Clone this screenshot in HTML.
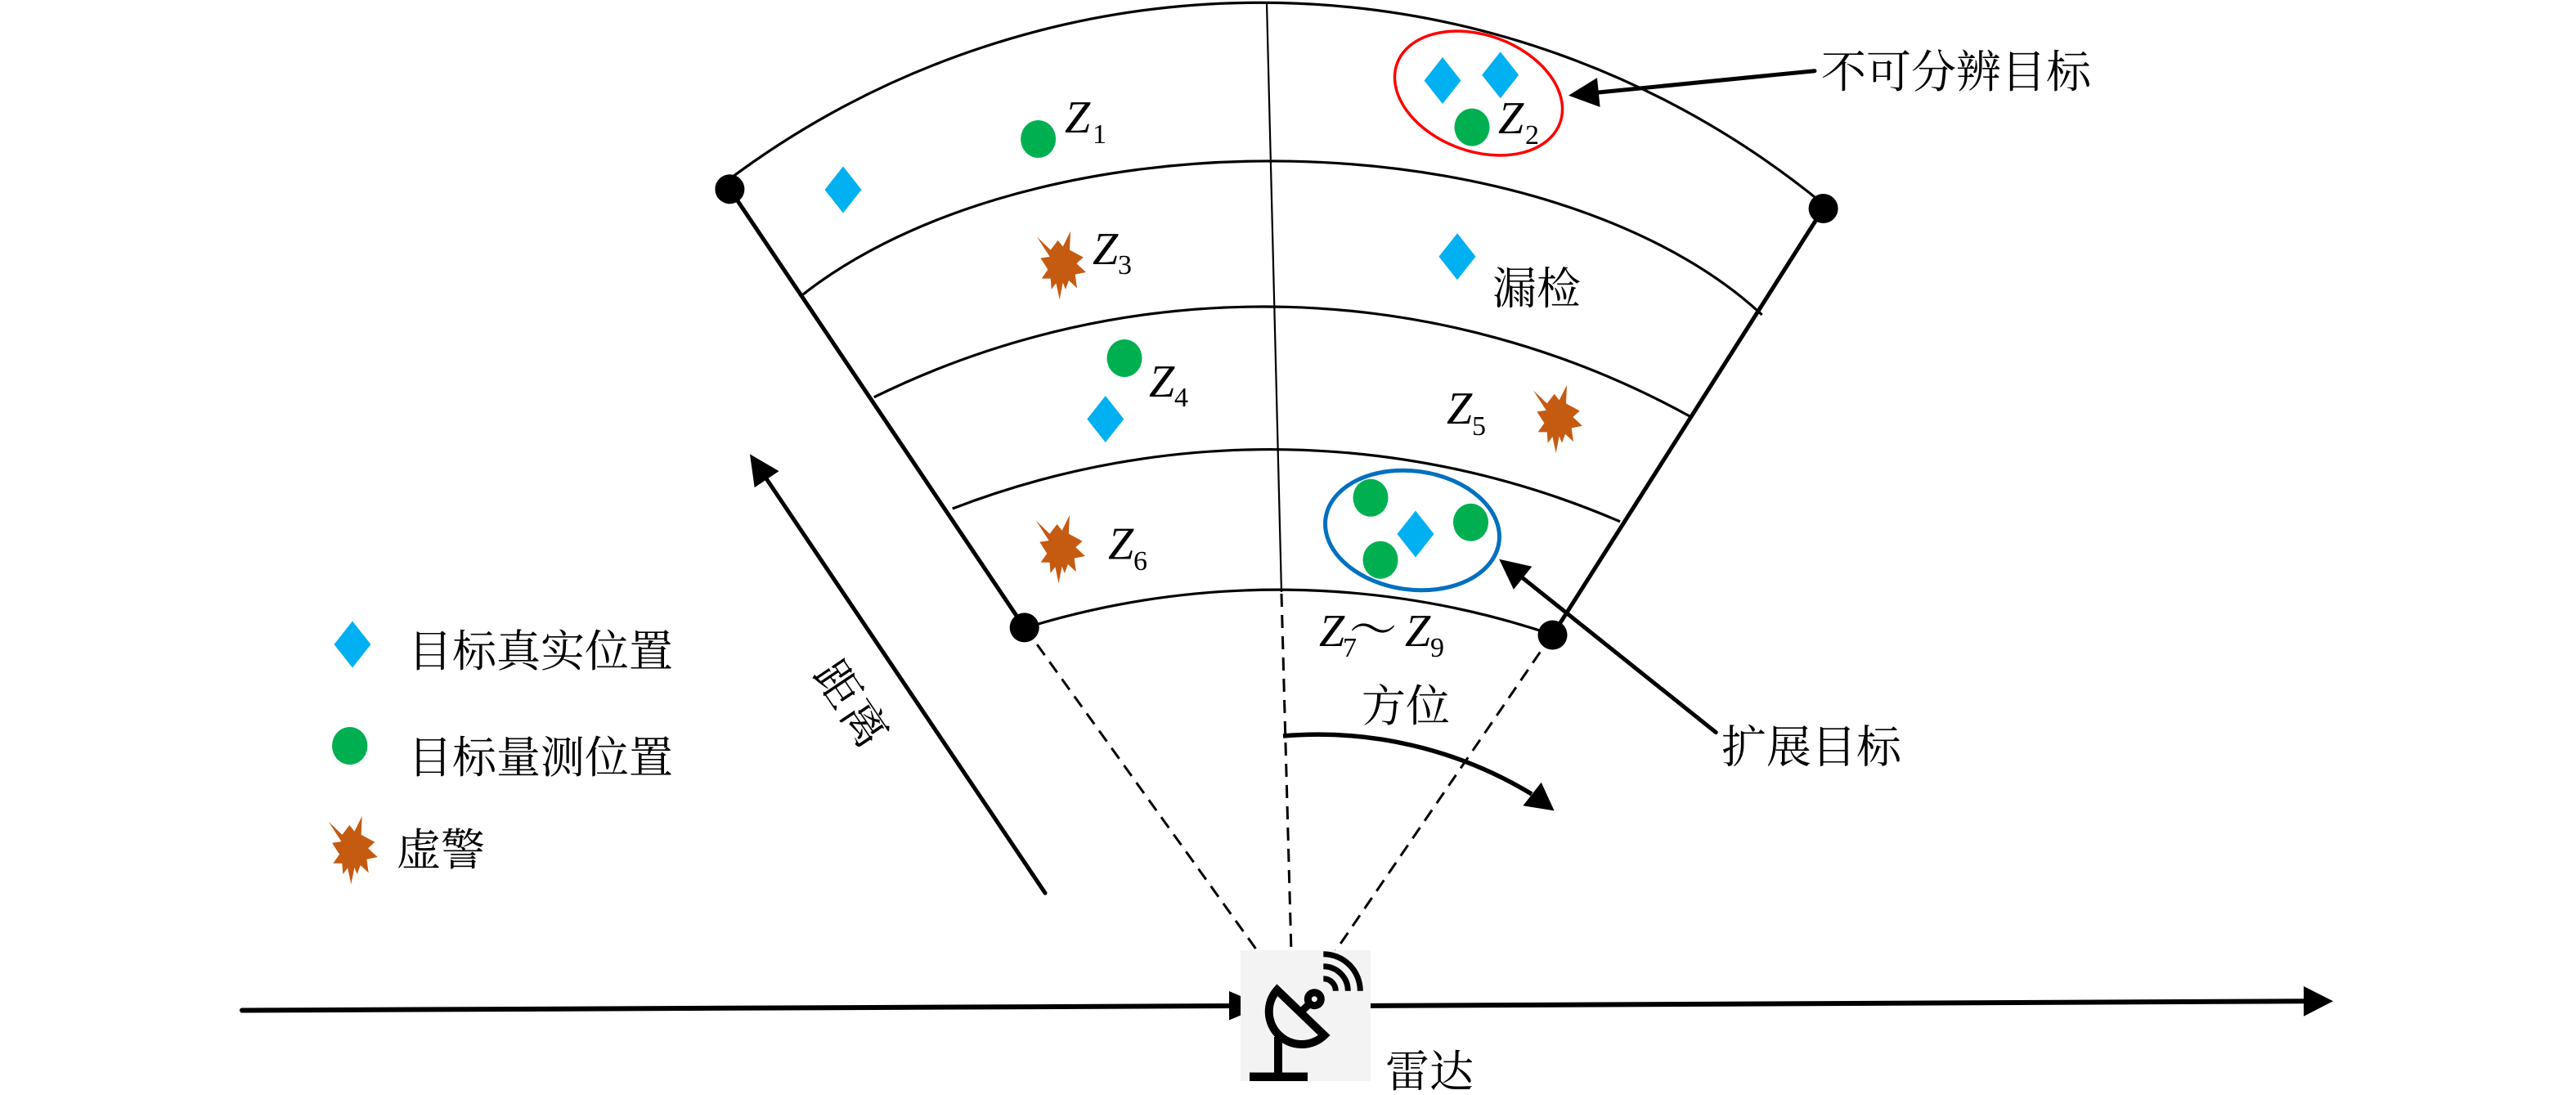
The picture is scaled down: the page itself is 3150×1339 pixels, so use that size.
<!DOCTYPE html>
<html>
<head>
<meta charset="utf-8">
<style>
html,body{margin:0;padding:0;background:#fff;overflow:hidden;}
svg{display:block;}
.cjk{font-family:"Liberation Serif","Noto Serif CJK SC","Noto Serif CJK JP",serif;}
.zi{font-family:"Liberation Serif",serif;font-style:italic;}
.zs{font-family:"Liberation Serif",serif;}
</style>
</head>
<body>
<svg xmlns="http://www.w3.org/2000/svg" width="3150" height="1339" viewBox="0 0 3150 1339">
<rect width="3150" height="1339" fill="#ffffff"/>
<defs>
<polygon id="star" fill="#c55a11" points="-31.7,-34.3 -15,-18.3 -6,-30 0,-22.3 9.3,-41 8.3,-18.3 25,-9.3 16.7,-1.7 28.3,9 15,11.7 17.3,28.3 7.3,19 3.3,30 0,21.7 -4,42.3 -8.3,22.3 -14,30 -15,16.7 -26,16.7 -18.3,5.7 -27.3,-8.3 -16,-10"/>
<polygon id="dia" fill="#00b0f0" points="0,-28.5 22.5,0 0,28.5 -22.5,0"/>
<ellipse id="gdot" rx="21.5" ry="23" fill="#00b050"/>
</defs>

<!-- arcs -->
<g fill="none" stroke="#000" stroke-width="3.2">
<path d="M 892 219 A 1085 1085 0 0 1 2229 249"/>
<path d="M 979.5 362 A 695 378 0 0 1 2154.6 385"/>
<path d="M 1068.8 485.7 A 1080 1080 0 0 1 2068 510"/>
<path d="M 1164.7 622 A 1080 1080 0 0 1 1981 637.8"/>
<path d="M 1253 768 A 1050 1050 0 0 1 1898 776"/>
</g>

<!-- center line -->
<line x1="1549" y1="3" x2="1567" y2="724" stroke="#000" stroke-width="2.2"/>

<!-- dashed lines -->
<g stroke="#000" stroke-width="3" stroke-dasharray="16 10" fill="none">
<line x1="1567" y1="726" x2="1579" y2="1165"/>
<line x1="1253" y1="767" x2="1537" y2="1162"/>
<line x1="1898" y1="776" x2="1633" y2="1163"/>
</g>

<!-- boundary lines -->
<g stroke="#000" stroke-width="5">
<line x1="892.4" y1="231.3" x2="1252.7" y2="767.4"/>
<line x1="2229.6" y1="255" x2="1898.5" y2="776.5"/>
</g>

<!-- dots -->
<g fill="#000">
<circle cx="892.4" cy="231.3" r="18"/>
<circle cx="2229.6" cy="255" r="18"/>
<circle cx="1252.7" cy="767.4" r="18"/>
<circle cx="1898.5" cy="776.5" r="18"/>
</g>

<!-- ellipses -->
<ellipse cx="1808" cy="114" rx="106" ry="71" transform="rotate(20 1808 114)" fill="none" stroke="#ff0000" stroke-width="3.5"/>
<ellipse cx="1727" cy="648.5" rx="107" ry="72.5" transform="rotate(7.8 1727 648.5)" fill="none" stroke="#0070c0" stroke-width="5"/>

<!-- markers in sector -->
<use href="#dia" x="1031" y="232"/>
<use href="#gdot" x="1269.6" y="170"/>
<use href="#star" x="1299.7" y="323.9"/>
<use href="#gdot" x="1375" y="438"/>
<use href="#dia" x="1351.8" y="512.5"/>
<use href="#star" x="1298.6" y="671"/>
<use href="#dia" x="1764" y="98.5"/>
<use href="#dia" x="1834.7" y="91.8"/>
<use href="#gdot" x="1800" y="155.6"/>
<use href="#dia" x="1782" y="313.8"/>
<use href="#star" x="1906.7" y="511.7"/>
<use href="#gdot" x="1676" y="608.7"/>
<use href="#gdot" x="1798.5" y="638.8"/>
<use href="#gdot" x="1688" y="684.7"/>
<use href="#dia" x="1731" y="653"/>

<!-- legend markers -->
<use href="#dia" x="431" y="788"/>
<ellipse cx="427.7" cy="912" rx="21.7" ry="23" fill="#00b050"/>
<use href="#star" x="433.4" y="1039"/>

<!-- arrows -->
<g stroke="#000" stroke-width="5" stroke-linecap="round" fill="none">
<line x1="1278" y1="1092" x2="937.6" y2="586.1"/>
<line x1="2219" y1="86.7" x2="1954.8" y2="113"/>
<line x1="2098.3" y1="895.6" x2="1862.1" y2="706.8"/>
<path d="M 1569 900 A 504 504 0 0 1 1873 971" stroke-width="5.5" stroke-linecap="butt"/>
</g>
<g fill="#000">
<polygon points="917,555.4 952.5,576.1 922.7,596.1"/>
<polygon points="1918,116.7 1953,95.1 1956.6,130.9"/>
<polygon points="1833.2,683.7 1873.3,692.7 1850.9,720.9"/>
<polygon points="1900.6,991.4 1862.4,985.2 1884.7,956.7"/>
</g>

<!-- horizontal axis -->
<line x1="296" y1="1235.5" x2="1505" y2="1230" stroke="#000" stroke-width="6" stroke-linecap="round"/>
<polygon points="1503,1212 1545,1229.8 1503,1247.5" fill="#000"/>
<line x1="1676" y1="1229.9" x2="2818" y2="1224.3" stroke="#000" stroke-width="6"/>
<polygon points="2817,1206 2853,1224.3 2817,1242.7" fill="#000"/>

<!-- radar box -->
<rect x="1517" y="1162" width="159" height="160" fill="#f3f3f3"/>
<rect x="1528" y="1311.5" width="71" height="10.5" fill="#000"/>
<line x1="1563" y1="1268" x2="1563" y2="1312" stroke="#000" stroke-width="10"/>
<path d="M 1561.7 1210.6 A 40 40 0 0 0 1619.3 1266 Z" fill="none" stroke="#000" stroke-width="10"/>
<line x1="1590" y1="1238" x2="1602" y2="1227" stroke="#000" stroke-width="9"/>
<circle cx="1607.3" cy="1221.7" r="8" fill="none" stroke="#000" stroke-width="9"/>
<g fill="none" stroke="#000" stroke-width="7">
<path d="M 1618.3 1196.7 A 15 15 0 0 1 1633.3 1211.7"/>
<path d="M 1618.3 1181.7 A 30 30 0 0 1 1648.3 1211.7"/>
<path d="M 1618.3 1166.7 A 45 45 0 0 1 1663.3 1211.7"/>
</g>

<!-- CJK labels -->
<g class="cjk" fill="#000">
<text x="499" y="815" font-size="54">目标真实位置</text>
<text x="499" y="945" font-size="54">目标量测位置</text>
<text x="485" y="1058" font-size="54">虚警</text>
<text x="2227" y="107" font-size="55">不可分辨目标</text>
<text x="1825" y="371.5" font-size="54">漏检</text>
<text x="1665" y="882" font-size="54">方位</text>
<text x="2105" y="932.7" font-size="55">扩展目标</text>
<text x="1694" y="1329" font-size="54">雷达</text>
<text transform="translate(1025.6 872.6) rotate(56)" text-anchor="middle" font-size="55" letter-spacing="3">距离</text>
<text x="1650" y="790" font-size="58">～</text>
</g>

<!-- Z labels -->
<g fill="#000">
<text class="zi" x="1302" y="162" font-size="56">Z</text><text class="zs" x="1336" y="175" font-size="34">1</text>
<text class="zi" x="1832" y="163" font-size="56">Z</text><text class="zs" x="1865" y="176" font-size="34">2</text>
<text class="zi" x="1336" y="323" font-size="56">Z</text><text class="zs" x="1367" y="335" font-size="34">3</text>
<text class="zi" x="1405" y="485" font-size="56">Z</text><text class="zs" x="1436" y="497" font-size="34">4</text>
<text class="zi" x="1769" y="518" font-size="56">Z</text><text class="zs" x="1800" y="532" font-size="34">5</text>
<text class="zi" x="1355" y="683.5" font-size="56">Z</text><text class="zs" x="1386" y="697" font-size="34">6</text>
<text class="zi" x="1613" y="790" font-size="56">Z</text><text class="zs" x="1642" y="803" font-size="34">7</text>
<text class="zi" x="1718" y="790" font-size="56">Z</text><text class="zs" x="1749" y="803" font-size="34">9</text>
</g>
</svg>
</body>
</html>
